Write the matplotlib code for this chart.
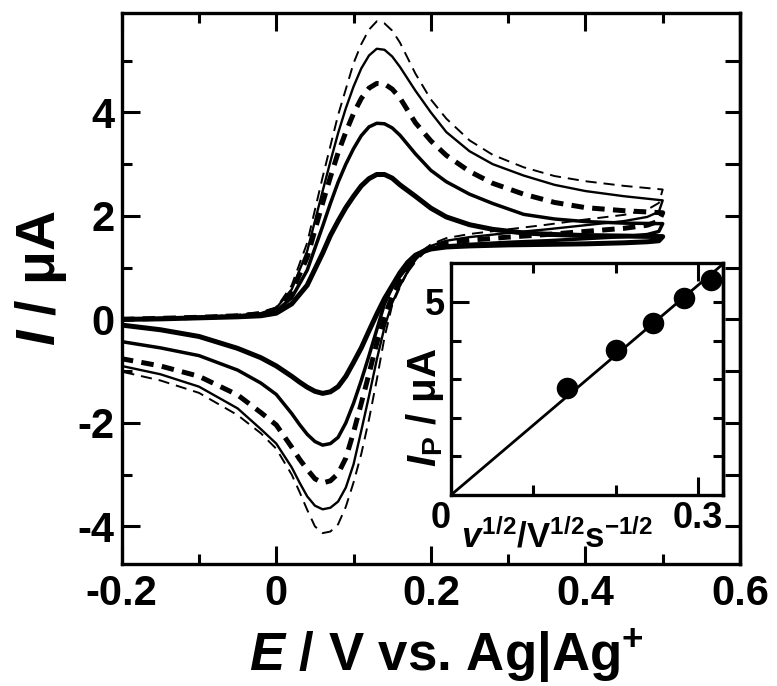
import matplotlib
matplotlib.use("Agg")
import matplotlib.pyplot as plt
from matplotlib.ticker import FixedLocator, NullLocator

# ---------------- data ----------------
E_fwd = [-0.2, -0.15, -0.1, -0.05, -0.02, 0.0, 0.02, 0.04, 0.06, 0.07, 0.08, 0.09, 0.10, 0.11,
         0.12, 0.13, 0.14, 0.15, 0.16, 0.18, 0.20, 0.22, 0.25, 0.28, 0.32, 0.36, 0.40, 0.45, 0.50]
E_rev = [0.50, 0.495, 0.48, 0.45, 0.40, 0.35, 0.30, 0.25, 0.22, 0.20, 0.19, 0.18, 0.17, 0.16,
         0.15, 0.14, 0.13, 0.12, 0.11, 0.10, 0.09, 0.08, 0.07, 0.06, 0.05, 0.04, 0.03, 0.02,
         0.0, -0.02, -0.05, -0.1, -0.15, -0.2]

# 0.10 V/s (thin dashed)
I_td_fwd = [0.0, 0.02, 0.05, 0.09, 0.14, 0.22, 0.66, 1.48, 2.75, 3.35, 3.95, 4.45, 4.95, 5.32,
            5.60, 5.76, 5.72, 5.58, 5.35, 4.75, 4.25, 3.88, 3.46, 3.18, 2.94, 2.77, 2.67, 2.58, 2.51]
I_td_rev = [2.51, 2.25, 2.12, 2.02, 1.93, 1.83, 1.74, 1.65, 1.57, 1.45, 1.33, 1.15, 0.92, 0.62,
            0.28, -0.35, -1.17, -1.93, -2.60, -3.15, -3.62, -3.96, -4.10, -4.13, -4.00, -3.68,
            -3.33, -3.00, -2.50, -2.20, -1.85, -1.42, -1.18, -1.01]
# 0.08 V/s (thin solid)
I_ts_fwd = [0.0, 0.02, 0.05, 0.08, 0.12, 0.22, 0.58, 1.32, 2.48, 3.05, 3.60, 4.08, 4.50, 4.85,
            5.10, 5.23, 5.21, 5.08, 4.88, 4.42, 4.00, 3.62, 3.25, 3.00, 2.78, 2.60, 2.48, 2.38, 2.30]
I_ts_rev = [2.30, 2.08, 1.98, 1.90, 1.82, 1.74, 1.67, 1.59, 1.52, 1.42, 1.32, 1.15, 0.93, 0.65,
            0.32, -0.15, -0.78, -1.48, -2.15, -2.80, -3.25, -3.52, -3.64, -3.67, -3.60, -3.42,
            -3.15, -2.86, -2.40, -2.12, -1.72, -1.30, -1.06, -0.90]
# 0.06 V/s (thick dashed)
I_kd_fwd = [0.0, 0.02, 0.04, 0.07, 0.11, 0.20, 0.53, 1.20, 2.25, 2.75, 3.22, 3.62, 3.98, 4.27,
            4.47, 4.56, 4.55, 4.45, 4.28, 3.80, 3.45, 3.17, 2.86, 2.63, 2.42, 2.26, 2.16, 2.10, 2.06]
I_kd_rev = [2.06, 1.90, 1.82, 1.76, 1.70, 1.64, 1.59, 1.53, 1.48, 1.40, 1.31, 1.16, 0.96, 0.72,
            0.45, 0.05, -0.46, -1.05, -1.62, -2.18, -2.68, -2.98, -3.12, -3.16, -3.08, -2.90,
            -2.70, -2.47, -2.04, -1.80, -1.46, -1.10, -0.90, -0.76]
# 0.04 V/s (medium solid)
I_ms_fwd = [0.0, 0.02, 0.04, 0.06, 0.09, 0.16, 0.42, 0.95, 1.80, 2.24, 2.65, 3.00, 3.30, 3.55,
            3.72, 3.79, 3.78, 3.70, 3.56, 3.20, 2.88, 2.66, 2.42, 2.24, 2.03, 1.94, 1.89, 1.86, 1.85]
I_ms_rev = [1.85, 1.70, 1.64, 1.60, 1.56, 1.52, 1.49, 1.45, 1.42, 1.37, 1.30, 1.18, 1.02, 0.83,
            0.62, 0.30, -0.20, -0.70, -1.18, -1.62, -2.00, -2.28, -2.40, -2.43, -2.36, -2.22,
            -2.03, -1.82, -1.45, -1.23, -0.98, -0.70, -0.55, -0.43]
# 0.02 V/s (thick solid)
I_ks_fwd = [0.0, 0.01, 0.03, 0.05, 0.07, 0.12, 0.30, 0.66, 1.28, 1.62, 1.90, 2.16, 2.38, 2.58,
            2.72, 2.80, 2.80, 2.73, 2.60, 2.38, 2.15, 1.98, 1.83, 1.74, 1.67, 1.64, 1.62, 1.61, 1.60]
I_ks_rev = [1.60, 1.52, 1.50, 1.48, 1.46, 1.45, 1.44, 1.42, 1.40, 1.36, 1.31, 1.24, 1.10, 0.90,
            0.65, 0.40, 0.10, -0.22, -0.55, -0.83, -1.10, -1.30, -1.40, -1.43, -1.39, -1.31,
            -1.21, -1.10, -0.90, -0.74, -0.56, -0.33, -0.20, -0.11]

# inset: peak current vs square root of scan rate
sqrt_v = [0.141, 0.200, 0.245, 0.283, 0.316]
I_peak = [2.76, 3.76, 4.46, 5.10, 5.57]
fit_x = [0.0, 0.33]
fit_y = [0.0, 5.97]

x_major = [-0.2, 0.0, 0.2, 0.4, 0.6]
x_major_labels = ["-0.2", "0", "0.2", "0.4", "0.6"]
x_minor = [-0.1, 0.1, 0.3, 0.5]
y_major = [-4, -2, 0, 2, 4]
y_major_labels = ["-4", "-2", "0", "2", "4"]
y_minor = [-3, -1, 1, 3, 5]
y_right = [-4, -3, -2, -1, 0, 1, 2, 3, 4, 5]

in_x_major = [0.0, 0.3]
in_x_labels = ["0", "0.3"]
in_x_minor = [0.1, 0.2]
in_y_major = [5]
in_y_labels = ["5"]
in_y_minor = [1, 2, 3, 4]
in_y_right = [1, 2, 3, 4, 5]

# ---------------- style ----------------
plt.rcParams['font.family'] = ['Liberation Sans', 'DejaVu Sans']
plt.rcParams['font.weight'] = 'bold'
plt.rcParams['axes.labelweight'] = 'bold'
plt.rcParams['axes.unicode_minus'] = False
plt.rcParams['mathtext.fontset'] = 'custom'
plt.rcParams['mathtext.rm'] = 'Liberation Sans:bold'
plt.rcParams['mathtext.bf'] = 'Liberation Sans:bold'
plt.rcParams['mathtext.it'] = 'Liberation Sans:italic:bold'
plt.rcParams['lines.scale_dashes'] = False

W, H = 777, 686
fig = plt.figure(figsize=(W / 100, H / 100), dpi=100)

def frac(l, t, r, b):
    return [l / W, 1 - b / H, (r - l) / W, (b - t) / H]

ax = fig.add_axes(frac(121.7, 13.3, 740, 564))

curves = [
    (I_td_fwd, I_td_rev, dict(lw=1.4, ls=(0, (8, 5)))),
    (I_ts_fwd, I_ts_rev, dict(lw=1.7, ls='-')),
    (I_kd_fwd, I_kd_rev, dict(lw=3.6, ls=(0, (9, 6)))),
    (I_ms_fwd, I_ms_rev, dict(lw=2.5, ls='-')),
    (I_ks_fwd, I_ks_rev, dict(lw=3.6, ls='-')),
]
for fwd, rev, st in curves:
    ax.plot(E_fwd + E_rev, fwd + rev, color='black', solid_joinstyle='round',
            dash_capstyle='butt', **st)

ax.set_xlim(-0.2, 0.6)
ax.set_ylim(-4.727, 5.915)
ax.set_xticks(x_major, labels=x_major_labels)
ax.xaxis.set_minor_locator(FixedLocator(x_minor))
ax.set_yticks(y_major, labels=y_major_labels)
ax.yaxis.set_minor_locator(FixedLocator(y_minor))
ax.tick_params(which='both', direction='in', top=True, right=False, width=2.2,
               labelsize=30)
ax.tick_params(axis='x', pad=7)
ax.tick_params(axis='y', pad=5)
ax.tick_params(which='major', length=13)
ax.tick_params(which='minor', length=7)
for s in ax.spines.values():
    s.set_linewidth(2.4)

sec = ax.secondary_yaxis('right')
sec.set_yticks(y_right)
sec.yaxis.set_minor_locator(NullLocator())
sec.tick_params(direction='in', length=11, width=2.2, labelright=False)
sec.spines['right'].set_linewidth(2.4)

ax.set_xlabel(r"$E$ / V vs. Ag|Ag$^{+}$", fontsize=38, va='baseline', ha='center')
ax.xaxis.set_label_coords(0.526, -0.194)
ax.set_ylabel(r"$I$ / μA", fontsize=40, va='baseline', ha='center')
ax.yaxis.set_label_coords(-0.108, 0.519)

# ---------------- inset ----------------
ins = fig.add_axes(frac(451, 263.3, 723.3, 495))
ins.set_facecolor('white')
ins.plot(fit_x, fit_y, color='black', lw=2.0)
ins.plot(sqrt_v, I_peak, 'o', color='black', ms=14.5)
ins.set_xlim(0, 0.331)
ins.set_ylim(0, 6)
ins.set_xticks(in_x_major, labels=in_x_labels)
ins.xaxis.set_minor_locator(FixedLocator(in_x_minor))
ins.set_yticks(in_y_major, labels=in_y_labels)
ins.yaxis.set_minor_locator(FixedLocator(in_y_minor))
ins.tick_params(which='both', direction='in', top=True, right=False, width=2.2,
                labelsize=26, pad=4)
ins.tick_params(which='major', length=13)
ins.tick_params(which='minor', length=7)
ins.xaxis.get_major_ticks()[0].label1.set_horizontalalignment('right')
for s in ins.spines.values():
    s.set_linewidth(2.4)
isec = ins.secondary_yaxis('right')
isec.set_yticks(in_y_right)
isec.yaxis.set_minor_locator(NullLocator())
isec.tick_params(direction='in', length=7, width=2.2, labelright=False)
isec.spines['right'].set_linewidth(2.4)

ins.set_xlabel(r"$v^{1/2}/\mathrm{V}^{1/2}\mathrm{s}^{-1/2}$", fontsize=25,
               va='baseline', ha='center')
ins.xaxis.set_label_coords(0.39, -0.228)
ins.set_ylabel(r"$I_\mathrm{P}$ / μA", fontsize=29, va='baseline', ha='center')
ins.yaxis.set_label_coords(-0.055, 0.38)

fig.savefig("out.png", dpi=100)
